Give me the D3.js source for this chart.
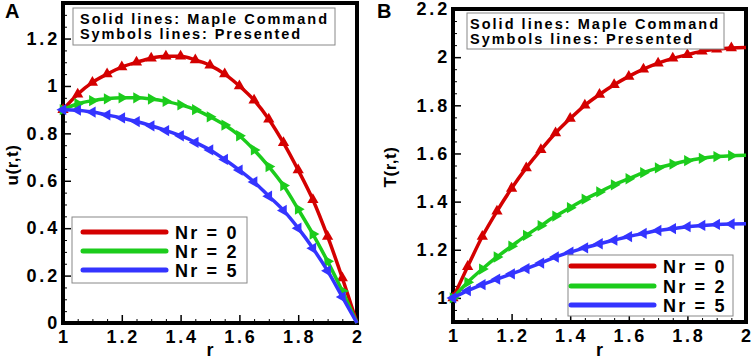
<!DOCTYPE html>
<html>
<head>
<meta charset="utf-8">
<script src="https://cdn.jsdelivr.net/npm/d3@7/dist/d3.min.js"></script>
<style>
  body { margin: 0; background: #fff; }
  svg { display: block; }
  text { font-family: "Liberation Sans", Arial, sans-serif; font-weight: bold; fill: #000; }
</style>
</head>
<body>
<div id="chart"></div>
<script>
// radial positions where the curves were sampled
const rValues = [1, 1.05, 1.1, 1.15, 1.2, 1.25, 1.3, 1.35, 1.4, 1.45, 1.5,
                 1.55, 1.6, 1.65, 1.7, 1.75, 1.8, 1.85, 1.9, 1.95, 2];

// panel A: velocity u(r,t)
const uNr0 = [0.90, 0.965, 1.015, 1.05, 1.08, 1.10, 1.117, 1.125, 1.125, 1.11, 1.087,
              1.05, 1.0, 0.94, 0.86, 0.76, 0.645, 0.52, 0.365, 0.19, 0];
const uNr2 = [0.90, 0.925, 0.938, 0.946, 0.95, 0.95, 0.945, 0.935, 0.92, 0.90, 0.87,
              0.835, 0.79, 0.73, 0.66, 0.58, 0.48, 0.375, 0.26, 0.135, 0];
const uNr5 = [0.90, 0.898, 0.89, 0.878, 0.865, 0.85, 0.832, 0.812, 0.79, 0.762, 0.73,
              0.69, 0.645, 0.595, 0.535, 0.475, 0.40, 0.315, 0.22, 0.11, 0];

// panel B: temperature T(r,t)
const tNr0 = [1.0, 1.13, 1.255, 1.36, 1.455, 1.54, 1.615, 1.685, 1.745, 1.80, 1.845,
              1.885, 1.92, 1.95, 1.975, 1.995, 2.01, 2.025, 2.033, 2.038, 2.04];
const tNr2 = [1.0, 1.065, 1.12, 1.17, 1.215, 1.26, 1.30, 1.34, 1.375, 1.41, 1.44,
              1.47, 1.495, 1.52, 1.54, 1.556, 1.57, 1.58, 1.587, 1.591, 1.593];
const tNr5 = [1.0, 1.03, 1.055, 1.078, 1.10, 1.122, 1.145, 1.17, 1.19, 1.208, 1.225,
              1.24, 1.255, 1.268, 1.28, 1.288, 1.296, 1.301, 1.305, 1.307, 1.308];

const seriesNames = ["Nr = 0", "Nr = 2", "Nr = 5"];
const seriesColors = ["#d40000", "#1ccc1c", "#3434ff"];
// triangle rotation: up, right, left
const seriesSymbolRot = [0, 90, -90];

const xTicks = [1, 1.2, 1.4, 1.6, 1.8, 2];
const uTicks = [0, 0.2, 0.4, 0.6, 0.8, 1, 1.2];
const tTicks = [1, 1.2, 1.4, 1.6, 1.8, 2, 2.2];
const noteLines = ["Solid lines: Maple Command", "Symbols lines: Presented"];

const W = 754, H = 359;

const svg = d3.select("#chart")
  .append("svg")
  .attr("width", W)
  .attr("height", H)
  .attr("viewBox", [0, 0, W, H]);

const fmt = d => String(+d.toFixed(2));

function drawPanel(p) {
  const x = d3.scaleLinear().domain([1, 2]).range([p.left, p.right]);
  const y = d3.scaleLinear().domain(p.yDomain).range([p.bottom, p.top]);
  const g = svg.append("g");

  // minor ticks every 0.05
  const xMinor = d3.range(1, 2.0001, 0.05).filter(v => !xTicks.some(t => Math.abs(t - v) < 1e-6));
  const yMinor = d3.range(p.yDomain[0], p.yDomain[1] + 1e-6, 0.05)
    .filter(v => !p.yTicks.some(t => Math.abs(t - v) < 1e-6));

  g.append("g")
    .attr("transform", `translate(0,${p.bottom})`)
    .call(d3.axisBottom(x).tickValues(xMinor).tickSize(-4).tickFormat(""))
    .call(a => a.select(".domain").remove());
  g.append("g")
    .attr("transform", `translate(${p.left},0)`)
    .call(d3.axisLeft(y).tickValues(yMinor).tickSize(-4).tickFormat(""))
    .call(a => a.select(".domain").remove());

  // major ticks + labels
  const xAxis = g.append("g")
    .attr("transform", `translate(0,${p.bottom})`)
    .call(d3.axisBottom(x).tickValues(xTicks).tickSize(-8).tickPadding(7).tickFormat(fmt));
  xAxis.select(".domain").remove();
  xAxis.selectAll("line").attr("stroke-width", 1.5);
  xAxis.selectAll("text")
    .attr("font-size", 18).attr("letter-spacing", "2.8px")
    .attr("font-family", null).attr("dy", "0.72em").attr("dx", "1px");

  const yAxis = g.append("g")
    .attr("transform", `translate(${p.left},0)`)
    .call(d3.axisLeft(y).tickValues(p.yTicks).tickSize(-8).tickPadding(3).tickFormat(fmt));
  yAxis.select(".domain").remove();
  yAxis.selectAll("line").attr("stroke-width", 1.5);
  yAxis.selectAll("text")
    .attr("font-size", 18).attr("letter-spacing", "2.8px")
    .attr("font-family", null);

  // frame
  g.append("rect")
    .attr("x", p.left).attr("y", p.top)
    .attr("width", p.right - p.left).attr("height", p.bottom - p.top)
    .attr("fill", "none").attr("stroke", "#000").attr("stroke-width", 4);

  // curves and symbols
  const line = d3.line()
    .x(d => x(d.r)).y(d => y(d.v))
    .curve(d3.curveMonotoneX);
  const symbol = d3.symbol().type(d3.symbolTriangle).size(55);

  p.series.forEach((vals, i) => {
    const pts = rValues.map((r, k) => ({ r: r, v: vals[k] }));
    g.append("path")
      .datum(pts)
      .attr("d", line)
      .attr("fill", "none")
      .attr("stroke", seriesColors[i])
      .attr("stroke-width", 3.5);
    g.selectAll(null)
      .data(pts.filter(d => d.r < 2))
      .join("path")
      .attr("d", symbol)
      .attr("transform", d => `translate(${x(d.r)},${y(d.v)}) rotate(${seriesSymbolRot[i]})`)
      .attr("fill", seriesColors[i]);
  });

  // panel letter
  g.append("text")
    .attr("x", p.letterX).attr("y", 18)
    .attr("font-size", 20)
    .text(p.letter);

  // axis titles
  g.append("text")
    .attr("x", (p.left + p.right) / 2).attr("y", 356)
    .attr("text-anchor", "middle")
    .attr("font-size", 18)
    .text("r");
  g.append("text")
    .attr("transform", `translate(${p.yTitleX},${p.yTitleY}) rotate(-90)`)
    .attr("text-anchor", "middle")
    .attr("font-size", 17)
    .attr("letter-spacing", "0.5px")
    .text(p.yTitle);

  // note box
  const nb = p.noteBox;
  g.append("rect")
    .attr("x", nb.x).attr("y", nb.y).attr("width", nb.w).attr("height", nb.h)
    .attr("fill", "#fff").attr("stroke", "#888").attr("stroke-width", 1);
  noteLines.forEach((t, k) => {
    g.append("text")
      .attr("x", nb.tx).attr("y", nb.baselines[k])
      .attr("font-size", 14.5)
      .attr("textLength", nb.lengths[k])
      .attr("lengthAdjust", "spacing")
      .text(t);
  });

  // legend
  const lb = p.legendBox;
  g.append("rect")
    .attr("x", lb.x).attr("y", lb.y).attr("width", lb.w).attr("height", lb.h)
    .attr("fill", "#fff").attr("stroke", "#888").attr("stroke-width", 1);
  seriesNames.forEach((name, k) => {
    const ry = lb.rows[k];
    g.append("line")
      .attr("x1", lb.x1).attr("x2", lb.x2)
      .attr("y1", ry).attr("y2", ry)
      .attr("stroke", seriesColors[k]).attr("stroke-width", 5)
      .attr("stroke-linecap", "round");
    g.append("text")
      .attr("x", lb.tx).attr("y", ry + 7)
      .attr("font-size", 18)
      .attr("letter-spacing", "2.2px")
      .text(name);
  });
}

drawPanel({
  letter: "A", letterX: 5,
  left: 63, right: 357, top: 3, bottom: 323,
  yDomain: [0, 1.35], yTicks: uTicks,
  series: [uNr0, uNr2, uNr5],
  yTitle: "u(r,t)", yTitleX: 18, yTitleY: 165,
  noteBox: { x: 73, y: 8, w: 262, h: 37, tx: 80, baselines: [24, 39], lengths: [247, 220] },
  legendBox: { x: 72, y: 217, w: 175, h: 66, rows: [232, 251, 270], x1: 83, x2: 166, tx: 175 }
});

drawPanel({
  letter: "B", letterX: 377,
  left: 453, right: 746, top: 9, bottom: 322,
  yDomain: [0.9, 2.2], yTicks: tTicks,
  series: [tNr0, tNr2, tNr5],
  yTitle: "T(r,t)", yTitleX: 396, yTitleY: 167,
  noteBox: { x: 467, y: 13, w: 257, h: 36, tx: 470, baselines: [29, 44], lengths: [248, 222] },
  legendBox: { x: 568, y: 255, w: 165, h: 61, rows: [266, 286, 305], x1: 571, x2: 654, tx: 663 }
});
</script>
</body>
</html>
